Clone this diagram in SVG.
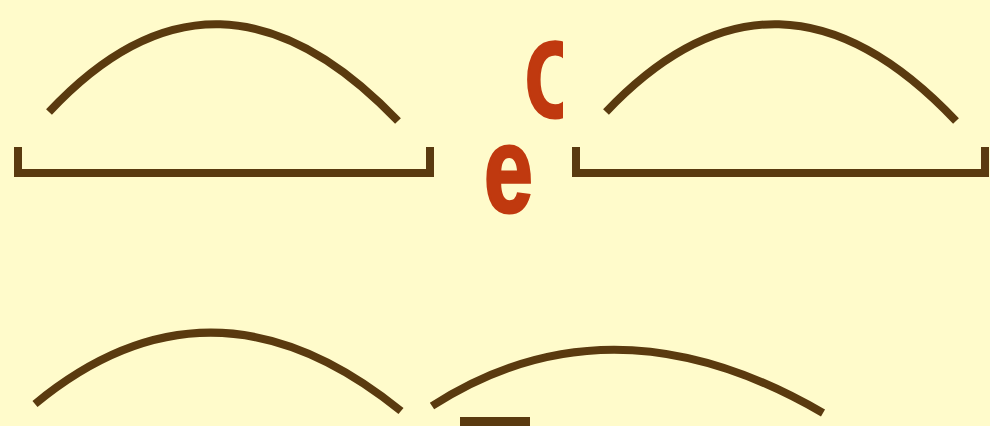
<svg xmlns="http://www.w3.org/2000/svg" width="990" height="426" viewBox="0 0 990 426">
<defs>
<style>
.ln{fill:none;stroke:#5a3a0f;stroke-width:8;stroke-linecap:butt;stroke-linejoin:miter}
.lt{font-family:"Liberation Sans",Arial,sans-serif;font-weight:bold;fill:#c0390f;stroke:#c0390f;stroke-width:3}
</style>
<clipPath id="cl"><rect x="500" y="20" width="63" height="110"/></clipPath>
</defs>
<rect width="990" height="426" fill="#fffbcb"/>
<g id="connectors">
<path id="arc-tl" class="ln" d="M49,112 Q217,-68 398,121"/>
<path id="bracket-l" class="ln" d="M18,147 V173 H430 V147"/>
<path id="arc-tr" class="ln" d="M606,112 Q777,-68 956,121"/>
<path id="bracket-r" class="ln" d="M576,147 V173 H985 V147"/>
<path id="arc-bl" class="ln" d="M35,404 Q212,258 401,411"/>
<path id="arc-br" class="ln" d="M432,406 Q612,290 823,413"/>
<rect id="bar" x="460" y="417" width="70" height="12" fill="#5a3a0f"/>
</g>
<g id="label-e">
<text class="lt" font-size="122" transform="translate(484,212) scale(0.72,1)">e</text>
</g>
<g id="label-o" clip-path="url(#cl)">
<text class="lt" font-size="108" transform="translate(525,117) scale(0.72,1)">O</text>
</g>
</svg>
